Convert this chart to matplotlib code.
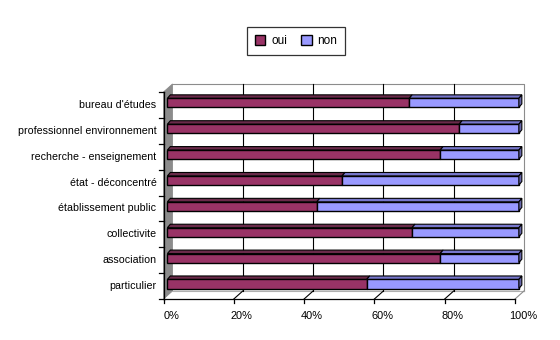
import matplotlib.pyplot as plt
from matplotlib.patches import Polygon, Rectangle, Patch
from matplotlib.transforms import offset_copy

plt.rcParams['font.family'] = ['Liberation Sans', 'DejaVu Sans']

categories = ["particulier", "association", "collectivite", "établissement public",
              "état - déconcentré", "recherche - enseignement",
              "professionnel environnement", "bureau d'études"]
oui = [56.7, 77.6, 69.6, 42.5, 49.7, 77.6, 83.0, 68.8]
non = [100 - v for v in oui]
ticks = [0, 20, 40, 60, 80, 100]
tick_labels = ["0%", "20%", "40%", "60%", "80%", "100%"]

c_oui, c_non = "#993366", "#9999ff"
c_oui_top, c_non_top = "#6a2a4a", "#7777cc"

# depth of the box (back wall offset) and of the bars, in data units
DX, DY = 2.56, 0.31
BX, BY = 0.85, 0.135
BAR_X = 1.1
BAR_H = 0.35
BAR_OFF = 0.08

fig = plt.figure(figsize=(5.6, 3.4), dpi=100)
ax = fig.add_axes([163.5 / 560, 41 / 340, 351.5 / 560, 207 / 340])
ax.set_xlim(0, 100)
ax.set_ylim(-0.5, 7.5)
ax.axis("off")

n = len(categories)
y0, y1 = -0.5, n - 0.5

# left wall
ax.add_patch(Polygon([(0, y0), (DX, y0 + DY), (DX, y1 + DY), (0, y1)],
                     closed=True, facecolor="#8c8c8c", edgecolor="#8c8c8c",
                     lw=0.6, clip_on=False, zorder=1))
# back wall outline and floor edges
ax.plot([DX, 100 + DX, 100 + DX], [y1 + DY, y1 + DY, y0 + DY],
        color="#8c8c8c", lw=0.8, clip_on=False, zorder=1)
ax.plot([DX, 100 + DX], [y0 + DY, y0 + DY], color="#b0b0b0", lw=0.8,
        clip_on=False, zorder=1)
ax.plot([100 + DX, 100], [y0 + DY, y0], color="#8c8c8c", lw=0.8,
        clip_on=False, zorder=1)

# gridlines on the back wall and across the floor
for t in ticks[1:-1]:
    ax.plot([t + DX, t + DX], [y0 + DY, y1 + DY], color="black", lw=0.8,
            clip_on=False, zorder=1)
    ax.plot([t + DX, t], [y0 + DY, y0], color="black", lw=0.8,
            clip_on=False, zorder=1)

# front floor edge and axes
ax.plot([0, 100], [y0, y0], color="black", lw=0.9, clip_on=False, zorder=4)
ax.plot([0, 0], [y0 - 0.05, y1], color="black", lw=0.9, clip_on=False, zorder=4)
for k in range(n + 1):
    ax.plot([-1.2, 0], [y0 + k, y0 + k], color="black", lw=0.9,
            clip_on=False, zorder=4)
for t in ticks:
    ax.plot([t, t], [y0, y0 - 0.14], color="black", lw=0.9,
            clip_on=False, zorder=4)

# bars with top and right faces
for i in range(n):
    yb = i + BAR_OFF - BAR_H / 2
    yt = yb + BAR_H
    segs = [(0, oui[i], c_oui, c_oui_top), (oui[i], oui[i] + non[i], c_non, c_non_top)]
    for a, b, fc, tc in segs:
        a, b = a + BAR_X, b + BAR_X
        ax.add_patch(Polygon([(a, yt), (a + BX, yt + BY), (b + BX, yt + BY), (b, yt)],
                             closed=True, facecolor=tc, edgecolor="black",
                             lw=0.8, clip_on=False, zorder=3))
        ax.add_patch(Rectangle((a, yb), b - a, BAR_H, facecolor=fc,
                               edgecolor="black", lw=1.0, clip_on=False, zorder=3))
    end = oui[i] + non[i] + BAR_X
    ax.add_patch(Polygon([(end, yb), (end + BX, yb + BY), (end + BX, yt + BY), (end, yt)],
                         closed=True, facecolor="#6666aa", edgecolor="black",
                         lw=0.8, clip_on=False, zorder=3))

# category labels
lab_tr = offset_copy(ax.transData, fig=fig, x=-7, y=0, units="dots")
for i, name in enumerate(categories):
    ax.text(0, i, name, transform=lab_tr, ha="right", va="center", fontsize=7.7)

# percentage labels
pct_tr = offset_copy(ax.transData, fig=fig, x=8, y=-17, units="dots")
for t, lab in zip(ticks, tick_labels):
    ax.text(t, y0, lab, transform=pct_tr, ha="center", va="center", fontsize=7.9)

handles = [Patch(facecolor=c_oui, edgecolor="black", label="oui"),
           Patch(facecolor=c_non, edgecolor="black", label="non")]
leg = fig.legend(handles=handles, loc="center", bbox_to_anchor=(296 / 560, 1 - 41 / 340),
                 ncol=2, fontsize=8.5, frameon=True, fancybox=False,
                 handlelength=0.9, handleheight=0.9, handletextpad=0.5,
                 columnspacing=1.2, borderpad=0.65)
leg.get_frame().set_edgecolor("black")
leg.get_frame().set_linewidth(0.9)

fig.savefig("out.png", dpi=100)
